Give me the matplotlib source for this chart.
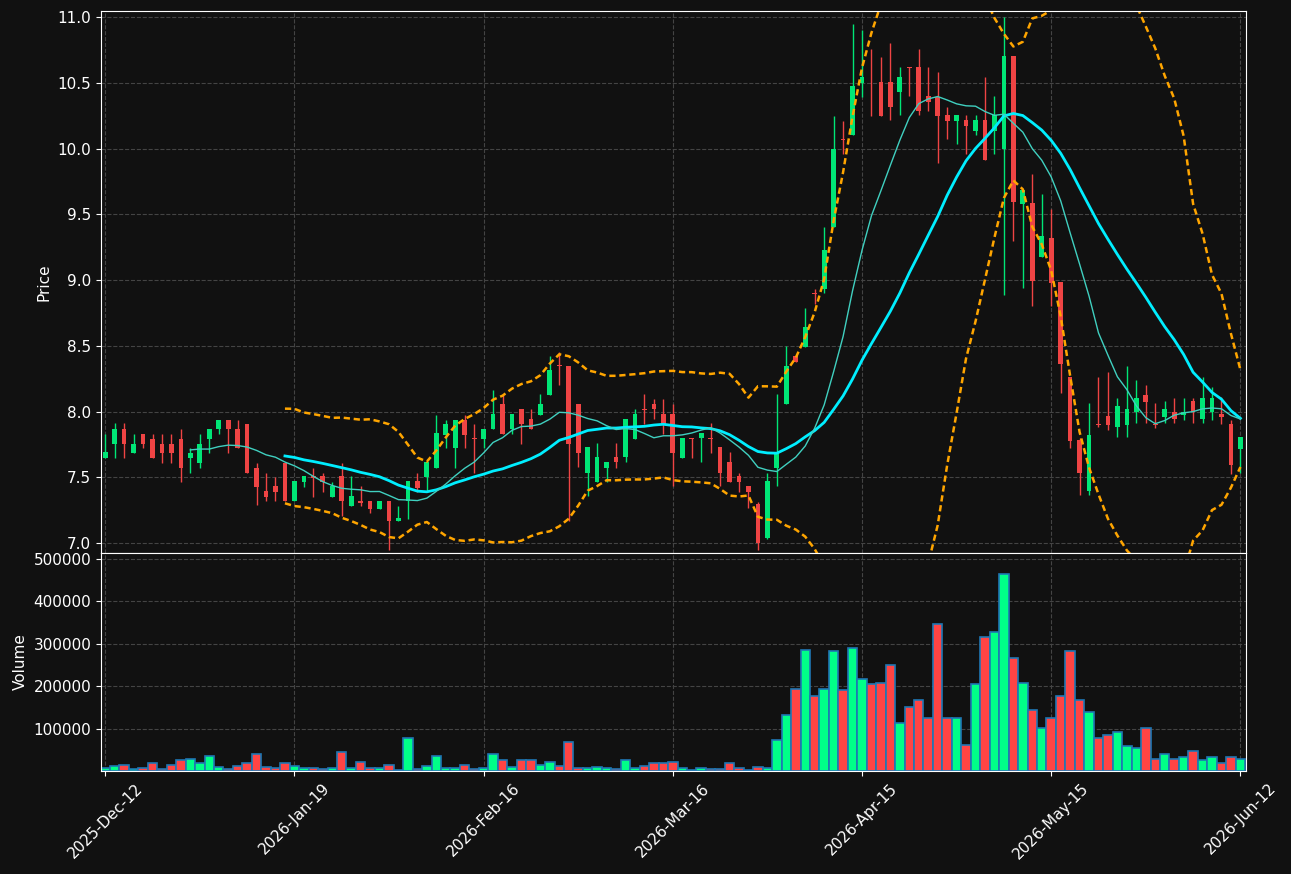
import numpy as np
import pandas as pd
import matplotlib
matplotlib.use('Agg')
import matplotlib.pyplot as plt

# daily OHLC
opens = [7.645, 7.75, 7.87, 7.683, 7.83, 7.792, 7.754, 7.754, 7.792, 7.645,
         7.607, 7.79, 7.866, 7.937, 7.868, 7.906, 7.572, 7.392, 7.43, 7.61,
         7.318, 7.463, 7.506, 7.506, 7.349, 7.506, 7.285, 7.323, 7.323, 7.255,
         7.323, 7.166, 7.316, 7.468, 7.501, 7.569, 7.825, 7.721, 7.937, 7.795,
         7.792, 7.867, 8.057, 7.867, 8.019, 7.943, 7.976, 8.125, 8.35, 8.346,
         8.057, 7.535, 7.466, 7.573, 7.651, 7.651, 7.791, 8.02, 8.057, 7.981,
         7.981, 7.649, 7.797, 7.796, 7.797, 7.727, 7.613, 7.51, 7.433, 7.297,
         7.04, 7.572, 8.054, 8.422, 8.493, 8.9, 8.929, 9.406, 10.07, 10.103,
         10.5, 10.323, 10.508, 10.508, 10.432, 10.617, 10.617, 10.397, 10.39, 10.252,
         10.212, 10.217, 10.136, 10.217, 10.136, 9.999, 10.703, 9.578, 9.588, 9.177,
         9.317, 8.985, 8.265, 7.783, 7.398, 7.906, 7.966, 7.88, 7.897, 7.999,
         8.125, 7.906, 7.96, 7.999, 7.973, 8.082, 7.94, 7.999, 7.981, 7.905,
         7.713]
highs = [7.83, 7.91, 7.91, 7.83, 7.83, 7.83, 7.83, 7.83, 7.868, 7.724,
         7.83, 7.868, 7.937, 7.937, 7.937, 7.906, 7.61, 7.534, 7.5, 7.61,
         7.468, 7.506, 7.572, 7.534, 7.463, 7.61, 7.506, 7.43, 7.323, 7.323,
         7.323, 7.278, 7.468, 7.534, 7.615, 7.975, 7.937, 7.937, 7.975, 7.906,
         7.868, 8.163, 8.125, 7.981, 8.019, 8.019, 8.133, 8.422, 8.455, 8.346,
         8.057, 7.727, 7.758, 7.613, 7.758, 7.943, 8.019, 8.133, 8.095, 8.095,
         8.057, 7.796, 7.797, 7.834, 7.91, 7.727, 7.689, 7.535, 7.433, 7.31,
         7.535, 8.13, 8.498, 8.422, 8.785, 8.93, 9.406, 10.25, 10.21, 10.944,
         10.9, 10.76, 10.693, 10.8, 10.617, 10.617, 10.76, 10.617, 10.58, 10.318,
         10.252, 10.252, 10.252, 10.546, 10.4, 11.0, 10.703, 9.684, 9.806, 9.651,
         9.54, 8.985, 8.265, 7.796, 8.062, 8.265, 8.303, 8.1, 8.346, 8.24,
         8.2, 8.062, 8.082, 8.105, 8.105, 8.105, 8.265, 8.19, 8.11, 7.935,
         7.809]
lows = [7.645, 7.65, 7.65, 7.683, 7.724, 7.645, 7.61, 7.61, 7.463, 7.534,
        7.572, 7.686, 7.83, 7.686, 7.721, 7.531, 7.29, 7.318, 7.318, 7.318,
        7.318, 7.425, 7.349, 7.387, 7.349, 7.209, 7.285, 7.285, 7.227, 7.255,
        6.943, 7.166, 7.184, 7.387, 7.394, 7.569, 7.721, 7.569, 7.721, 7.534,
        7.721, 7.867, 7.829, 7.829, 7.753, 7.867, 7.976, 8.125, 8.2, 7.17,
        7.575, 7.357, 7.466, 7.466, 7.573, 7.613, 7.791, 7.905, 7.943, 7.829,
        7.433, 7.649, 7.649, 7.613, 7.687, 7.433, 7.466, 7.39, 7.264, 6.95,
        7.027, 7.433, 8.054, 8.379, 8.493, 8.82, 8.9, 9.406, 9.96, 10.103,
        10.39, 10.25, 10.247, 10.217, 10.252, 10.4, 10.252, 10.288, 9.887, 10.07,
        10.032, 9.958, 10.103, 9.913, 9.958, 8.883, 9.299, 8.937, 8.8, 9.177,
        8.8, 8.138, 7.72, 7.365, 7.365, 7.885, 7.859, 7.804, 7.804, 7.915,
        7.915, 7.872, 7.915, 7.915, 7.935, 7.915, 7.915, 7.935, 7.905, 7.525,
        7.535]
closes = [7.69, 7.87, 7.75, 7.754, 7.75, 7.645, 7.683, 7.683, 7.569, 7.686,
          7.754, 7.868, 7.937, 7.866, 7.721, 7.531, 7.425, 7.349, 7.387, 7.318,
          7.468, 7.506, 7.496, 7.463, 7.43, 7.318, 7.354, 7.303, 7.255, 7.323,
          7.166, 7.189, 7.468, 7.42, 7.615, 7.835, 7.906, 7.937, 7.825, 7.79,
          7.868, 7.981, 7.829, 7.981, 7.905, 7.867, 8.057, 8.316, 8.345, 7.753,
          7.687, 7.727, 7.651, 7.613, 7.613, 7.943, 7.981, 8.015, 8.019, 7.905,
          7.687, 7.796, 7.794, 7.834, 7.794, 7.535, 7.466, 7.466, 7.39, 6.997,
          7.471, 7.687, 8.346, 8.379, 8.64, 8.895, 9.228, 9.996, 10.065, 10.475,
          10.546, 10.32, 10.247, 10.318, 10.546, 10.614, 10.288, 10.356, 10.247, 10.212,
          10.252, 10.171, 10.217, 9.913, 10.255, 10.703, 9.593, 9.684, 8.995, 9.332,
          8.98, 8.359, 7.778, 7.535, 7.821, 7.9, 7.897, 8.042, 8.019, 8.105,
          8.075, 7.9, 8.019, 7.94, 7.999, 7.999, 8.105, 8.105, 7.961, 7.593,
          7.809]
volumes = [8000, 12000, 15000, 4000, 6000, 18000, 4000, 15000, 25000, 29000,
           18000, 36000, 10000, 4000, 13000, 20000, 39000, 10000, 6000, 18000,
           13000, 8000, 8000, 4000, 8000, 46000, 6000, 22000, 6000, 6000,
           15000, 3000, 79000, 4000, 13000, 36000, 6000, 6000, 15000, 4000,
           8000, 39000, 27000, 10000, 25000, 25000, 15000, 22000, 13000, 69000,
           6000, 8000, 10000, 6000, 4000, 27000, 6000, 13000, 20000, 18000,
           22000, 6000, 3000, 6000, 5000, 5000, 18000, 8000, 3000, 10000,
           8000, 72000, 133000, 194000, 286000, 178000, 194000, 284000, 192000, 291000,
           218000, 204000, 208000, 250000, 114000, 152000, 168000, 126000, 347000, 124000,
           124000, 62000, 206000, 317000, 328000, 465000, 267000, 208000, 145000, 102000,
           126000, 178000, 284000, 168000, 138000, 77000, 84000, 91000, 58000, 55000,
           102000, 29000, 41000, 29000, 34000, 48000, 27000, 34000, 20000, 34000,
           29000]
tick_labels = ['2025-Dec-12', '2026-Jan-19', '2026-Feb-16', '2026-Mar-16',
               '2026-Apr-15', '2026-May-15', '2026-Jun-12']

df = pd.DataFrame({'open': opens, 'high': highs, 'low': lows,
                   'close': closes, 'volume': volumes})
df['sma10'] = df['close'].rolling(10).mean()
df['sma20'] = df['close'].rolling(20).mean()
std20 = df['close'].rolling(20).std()
df['bb_up'] = df['sma20'] + 2 * std20
df['bb_lo'] = df['sma20'] - 2 * std20

x = np.arange(len(df))
up = df['close'] >= df['open']
candle_col = np.where(up, '#00e676', '#ef4444')
vol_col = np.where(up, '#00ff88', '#ff4444')

bg = '#111111'
fig = plt.figure(figsize=(12.91, 8.74), dpi=100, facecolor=bg)
ax = fig.add_axes([0.0782, 0.3673, 0.887, 0.6201])
axv = fig.add_axes([0.0782, 0.1178, 0.887, 0.2495], sharex=ax)

for a in (ax, axv):
    a.set_facecolor(bg)
    a.grid(True, color='#444444', linestyle='--', linewidth=0.8)
    a.set_axisbelow(True)
    for s in a.spines.values():
        s.set_color('white')
    a.tick_params(colors='white', labelsize=11)

# candles
ax.vlines(x, df['low'], df['high'], colors=candle_col, linewidth=1)
body = np.maximum((df['close'] - df['open']).abs(), 0.006)
ax.bar(x, body, bottom=np.minimum(df['open'], df['close']), width=0.5,
       color=candle_col, linewidth=0)

ax.plot(x, df['bb_up'], color='orange', linestyle='--', dashes=(2.5, 1.5), linewidth=1.8)
ax.plot(x, df['bb_lo'], color='orange', linestyle='--', dashes=(2.5, 1.5), linewidth=1.8)
ax.plot(x, df['sma20'], color='#00eeff', linewidth=2)
ax.plot(x, df['sma10'], color='#40d0c0', linewidth=1)

ax.set_ylim(6.924, 11.046)
ax.set_yticks(np.arange(7.0, 11.01, 0.5))
ax.yaxis.set_major_formatter(plt.FormatStrFormatter('%.1f'))
ax.set_ylabel('Price', color='white', fontsize=11)
ax.tick_params(axis='x', labelbottom=False)

axv.bar(x, df['volume'], width=1.0, color=vol_col, edgecolor='#1f77b4', linewidth=1.2)
axv.set_ylim(0, 514000)
axv.set_yticks([100000, 200000, 300000, 400000, 500000])
axv.yaxis.set_major_formatter(plt.FormatStrFormatter('%d'))
axv.set_ylabel('Volume', color='white', fontsize=11)
axv.set_xlim(-0.45, 120.6)
axv.set_xticks(x[::20])
axv.set_xticklabels(tick_labels, rotation=45)

fig.savefig('out.png', dpi=100, facecolor=bg)
